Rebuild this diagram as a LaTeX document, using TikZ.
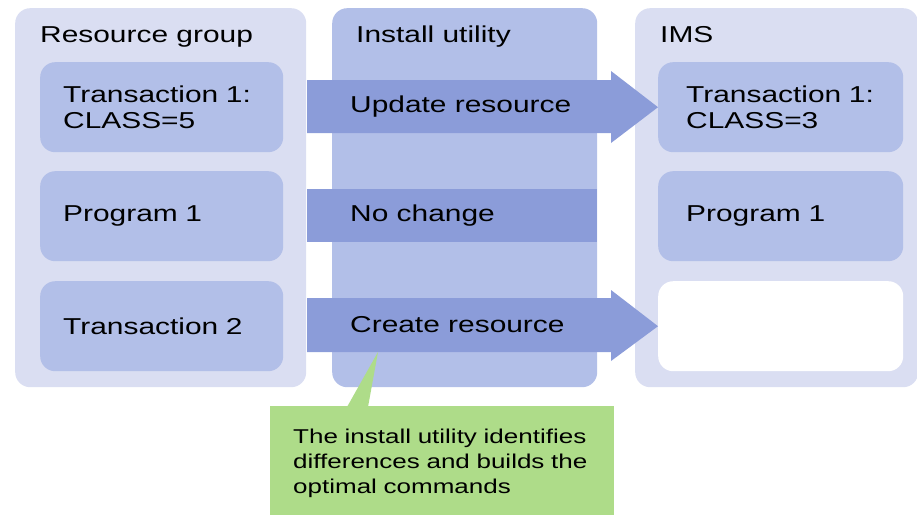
\documentclass[tikz,border=0pt]{standalone}
\usepackage{fontspec}
\setmainfont{Liberation Sans}[FakeStretch=1.3]
\usetikzlibrary{positioning}
\definecolor{groupbg}{HTML}{DADEF2}
\definecolor{boxbg}{HTML}{B2BFE8}
\definecolor{movebg}{HTML}{8B9CD9}
\definecolor{notebg}{HTML}{AEDC89}

\begin{document}
\begin{tikzpicture}[x=1pt,y=-1pt,
        group/.style={fill=groupbg, rounded corners=15pt, inner sep=0pt, anchor=north west},
        item/.style={fill=boxbg, rounded corners=15pt, anchor=north west, minimum width=243pt,
            minimum height=90pt, text width=197pt, inner xsep=23pt, align=left,
            font=\fontsize{23}{26}\selectfont},
        title/.style={anchor=base west, inner sep=0pt, font=\fontsize{23}{26}\selectfont},
        move/.style={fill=movebg},
        note/.style={fill=notebg, anchor=north west, minimum width=344pt, minimum height=114pt,
            text width=298pt, inner xsep=23pt, align=left, font=\fontsize{20}{25}\selectfont}]
            \useasboundingbox (0,0) rectangle (917,514);

            % columns
            \node[group, minimum width=291pt, minimum height=379pt] (rg) at (15,8) {};
            \node[group, fill=boxbg, minimum width=265pt, minimum height=379pt] (iu) at (332,8) {};
            \node[group, minimum width=283pt, minimum height=379pt] (ims) at (635,8) {};

            \node[title] (rgt) at (40,42) {Resource group};
            \node[title] (iut) at (356,42) {Install utility};
            \node[title] (imst) at (660,42) {IMS};

            % resources on both sides
            \node[item] (t1l) at (40,62) {\mbox{Transaction 1:}\\CLASS=5};
            \node[item] (p1l) at (40,171) {Program 1};
            \node[item] (t2l) at (40,281) {Transaction 2};

            \node[item, minimum width=245pt, inner xsep=28pt, text width=189pt] (t1r) at (658,62) {\mbox{Transaction 1:}\\CLASS=3};
            \node[item, minimum width=245pt, inner xsep=28pt, text width=189pt] (p1r) at (658,171) {Program 1};
            \node[item, minimum width=245pt, fill=white] (t2r) at (658,281) {};

            % actions
            \fill[move] (307,80) -- (611,80) -- (611,71) -- (t1r.west)
                -- (611,143) -- (611,133) -- (307,133) -- cycle;
            \fill[move] (307,189) rectangle (iu.east |- 0,242);
            \fill[move] (307,298) -- (611,298) -- (611,290) -- (t2r.west)
                -- (611,361) -- (611,352) -- (307,352) -- cycle;

            \node[title, anchor=west] (upd) at (350,106.5) {Update resource};
            \node[title, anchor=west] (noc) at (350,215.5) {No change};
            \node[title, anchor=west] (cre) at (350,325) {Create resource};

            % note
            \coordinate (tip) at (378,352);
            \node[note] (nt) at (270,406) {\mbox{The install utility identifies}\\
                \mbox{differences and builds the}\\optimal commands};
            \fill[notebg] (347,407) -- (tip) -- (368,407) -- cycle;
        \end{tikzpicture}
\end{document}
